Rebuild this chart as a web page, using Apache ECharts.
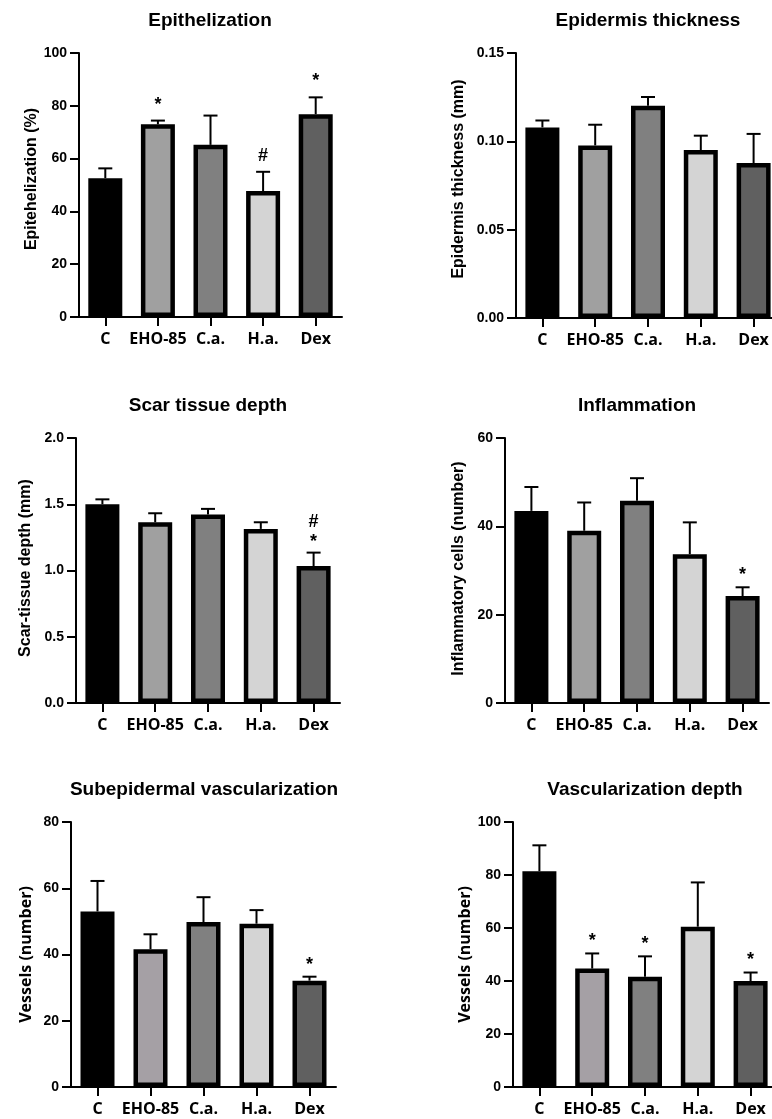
<!DOCTYPE html>
<html><head><meta charset="utf-8">
<script src="https://cdn.jsdelivr.net/npm/echarts@6/dist/echarts.min.js"></script>
<style>html,body{margin:0;padding:0;background:#fff}#c{width:772px;height:1119px}</style>
</head><body><div id="c"></div>
<script>
// ---------- DATA ----------
const categories = ['C', 'EHO-85', 'C.a.', 'H.a.', 'Dex'];

const epithelizationMean = [52.6, 73.0, 65.2, 47.7, 76.8];
const epithelizationSem  = [3.7, 1.4, 11.1, 7.3, 6.4];
const epithelizationMarks = [[], ['*'], [], ['#'], ['*']];
const epithelizationTicks = [0, 20, 40, 60, 80, 100];

const epidermisMean = [0.1079, 0.0977, 0.1202, 0.0951, 0.0877];
const epidermisSem  = [0.0039, 0.0117, 0.0049, 0.0081, 0.0165];
const epidermisMarks = [[], [], [], [], []];
const epidermisTicks = [0, 0.05, 0.10, 0.15];

const scarMean = [1.500, 1.364, 1.422, 1.314, 1.034];
const scarSem  = [0.037, 0.068, 0.043, 0.050, 0.101];
const scarMarks = [[], [], [], [], ['*', '#']];
const scarTicks = [0, 0.5, 1.0, 1.5, 2.0];

const inflammationMean = [43.5, 39.0, 45.8, 33.7, 24.2];
const inflammationSem  = [5.4, 6.4, 5.1, 7.2, 2.0];
const inflammationMarks = [[], [], [], [], ['*']];
const inflammationTicks = [0, 20, 40, 60];

const subepidermalMean = [53.0, 41.6, 49.8, 49.3, 32.1];
const subepidermalSem  = [9.2, 4.5, 7.5, 4.1, 1.2];
const subepidermalMarks = [[], [], [], [], ['*']];
const subepidermalTicks = [0, 20, 40, 60, 80];

const vascDepthMean = [81.4, 44.7, 41.6, 60.5, 40.0];
const vascDepthSem  = [9.8, 5.7, 7.7, 16.7, 3.2];
const vascDepthMarks = [[], ['*'], ['*'], [], ['*']];
const vascDepthTicks = [0, 20, 40, 60, 80, 100];

// ---------- STYLE / LAYOUT ----------
const greysA = ['#000000', '#a0a0a0', '#808080', '#d4d4d4', '#606060'];
const greysB = ['#000000', '#a5a0a5', '#808080', '#d4d4d4', '#606060'];
const ARIAL = '"Liberation Sans", Arial, sans-serif';
const CALIBRI = '"Open Sans", "Liberation Sans", sans-serif';

const panels = [
  {title: 'Epithelization', yName: 'Epitehelization (%)', mean: epithelizationMean, sem: epithelizationSem, marks: epithelizationMarks, ticks: epithelizationTicks, dec: 0,
   grid: {left: 79, top: 53, width: 263, height: 264}, tx: 210, ty: 11, nameGap: 37, namePad: [0,0,0,12], colors: greysA, nameFont: ARIAL, markGap: 6},
  {title: 'Epidermis thickness', yName: 'Epidermis thickness (mm)', mean: epidermisMean, sem: epidermisSem, marks: epidermisMarks, ticks: epidermisTicks, dec: 2,
   grid: {left: 516, top: 53, width: 264, height: 265}, tx: 648, ty: 11, nameGap: 49, namePad: [0,0,0,13], colors: greysA, nameFont: ARIAL, markGap: 2},
  {title: 'Scar tissue depth', yName: 'Scar-tissue depth (mm)', mean: scarMean, sem: scarSem, marks: scarMarks, ticks: scarTicks, dec: 1,
   grid: {left: 76, top: 438, width: 264, height: 265}, tx: 208, ty: 396, nameGap: 42, namePad: [0,0,0,5], colors: greysA, nameFont: ARIAL, markGap: 1},
  {title: 'Inflammation', yName: 'Inflammatory cells (number)', mean: inflammationMean, sem: inflammationSem, marks: inflammationMarks, ticks: inflammationTicks, dec: 0,
   grid: {left: 505, top: 438, width: 264, height: 265}, tx: 637, ty: 396, nameGap: 38, namePad: [0,0,0,4], colors: greysA, nameFont: ARIAL, markGap: 2},
  {title: 'Subepidermal vascularization', yName: 'Vessels (number)', mean: subepidermalMean, sem: subepidermalSem, marks: subepidermalMarks, ticks: subepidermalTicks, dec: 0,
   grid: {left: 71, top: 822, width: 265, height: 265}, tx: 204, ty: 780, nameGap: 37, namePad: [0,0,0,0], colors: greysB, nameFont: CALIBRI, markGap: 2},
  {title: 'Vascularization depth', yName: 'Vessels (number)', mean: vascDepthMean, sem: vascDepthSem, marks: vascDepthMarks, ticks: vascDepthTicks, dec: 0,
   grid: {left: 513, top: 822, width: 264, height: 265}, tx: 645, ty: 780, nameGap: 39, namePad: [0,0,0,0], colors: greysB, nameFont: CALIBRI, markGap: 2}
];

function errorRender(params, api) {
  const i = api.value(0);
  const lo = api.coord([i, api.value(1)]);
  const hi = api.coord([i, api.value(2)]);
  const half = 7;
  return {type: 'group', children: [
    {type: 'line', shape: {x1: lo[0], y1: lo[1], x2: hi[0], y2: hi[1]}, style: {stroke: '#000', lineWidth: 2}},
    {type: 'line', shape: {x1: hi[0] - half, y1: hi[1], x2: hi[0] + half, y2: hi[1]}, style: {stroke: '#000', lineWidth: 2}}
  ]};
}
function markRender(marks, gap) {
  return function (params, api) {
    const i = api.value(0);
    const m = marks[i];
    if (!m || !m.length) return null;
    const p = api.coord([i, api.value(1)]);
    return {type: 'text', x: p[0], y: p[1] - gap, style: {
      text: m.slice().reverse().join('\n'), fill: '#000', align: 'center', verticalAlign: 'bottom',
      fontFamily: ARIAL, fontWeight: 'bold', fontSize: 18, lineHeight: 20}};
  };
}

const option = {animation: false, backgroundColor: '#fff', title: [], grid: [], xAxis: [], yAxis: [], series: []};
panels.forEach((p, k) => {
  const tMin = p.ticks[0], tMax = p.ticks[p.ticks.length - 1], tInt = p.ticks[1] - p.ticks[0];
  option.title.push({text: p.title, left: p.tx, top: p.ty, textAlign: 'center', padding: 0,
    textStyle: {fontFamily: ARIAL, fontWeight: 'bold', fontSize: 19, color: '#000'}});
  option.grid.push(Object.assign({containLabel: false, outerBoundsMode: 'none'}, p.grid));
  option.xAxis.push({type: 'category', gridIndex: k, data: categories,
    axisLine: {show: true, lineStyle: {color: '#000', width: 2}},
    axisTick: {show: true, alignWithLabel: true, length: 9, lineStyle: {color: '#000', width: 2}},
    axisLabel: {margin: 14, color: '#000', fontFamily: CALIBRI, fontWeight: 'bold', fontSize: 16, interval: 0},
    splitLine: {show: false}});
  option.yAxis.push({type: 'value', gridIndex: k, min: tMin, max: tMax, interval: tInt,
    name: p.yName, nameLocation: 'middle', nameRotate: 90, nameGap: p.nameGap,
    nameTextStyle: {fontFamily: p.nameFont, fontWeight: 'bold', fontSize: 16, color: '#000', padding: p.namePad},
    axisLine: {show: true, lineStyle: {color: '#000', width: 2}},
    axisTick: {show: true, length: 9, lineStyle: {color: '#000', width: 2}},
    axisLabel: {margin: 12, color: '#000', fontFamily: ARIAL, fontWeight: 'bold', fontSize: 14,
      formatter: v => v.toFixed(p.dec)},
    splitLine: {show: false}});
  option.series.push({type: 'bar', xAxisIndex: k, yAxisIndex: k, barWidth: 34,
    data: p.mean.map((v, i) => ({value: v, itemStyle: {color: p.colors[i]}})),
    itemStyle: {borderColor: '#000', borderWidth: 4.5}, z: 2});
  option.series.push({type: 'custom', xAxisIndex: k, yAxisIndex: k, renderItem: errorRender,
    data: p.mean.map((v, i) => [i, v, v + p.sem[i]]), z: 3});
  option.series.push({type: 'custom', xAxisIndex: k, yAxisIndex: k, renderItem: markRender(p.marks, p.markGap),
    data: p.mean.map((v, i) => [i, v + p.sem[i]]), z: 4});
});

const chart = echarts.init(document.getElementById('c'), null, {renderer: 'canvas'});
chart.setOption(option);
</script>
</body></html>
